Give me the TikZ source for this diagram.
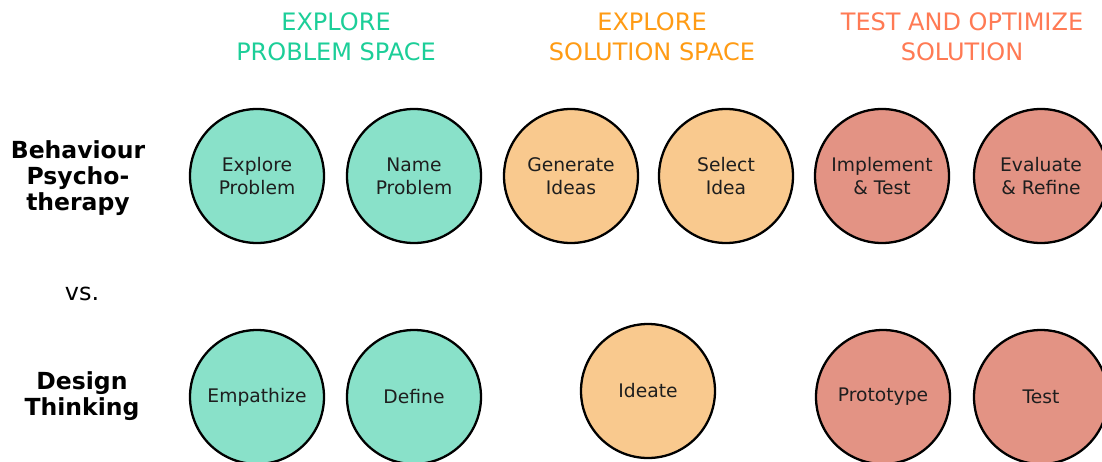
\documentclass[tikz,border=0pt]{standalone}
\usepackage{fontspec}
\setmainfont{DejaVu Sans}
\definecolor{hgreen}{RGB}{28,206,152}
\definecolor{horange}{RGB}{255,155,20}
\definecolor{hcoral}{RGB}{255,122,84}
\definecolor{fgreen}{RGB}{137,225,201}
\definecolor{forange}{RGB}{249,201,142}
\definecolor{fcoral}{RGB}{227,147,132}
\definecolor{ctext}{RGB}{30,30,30}
\tikzset{
  phase/.style={circle, draw=black, line width=2.3pt, minimum size=134pt, inner sep=0pt,
    align=center, text=ctext, font=\fontsize{18.7}{23}\selectfont},
  pg/.style={phase, fill=fgreen},
  po/.style={phase, fill=forange},
  pc/.style={phase, fill=fcoral},
  header/.style={align=center, font=\fontsize{24}{30}\selectfont, inner sep=0pt},
  rowlabel/.style={align=center, font=\bfseries\fontsize{23.5}{26}\selectfont, inner sep=0pt},
}
\begin{document}
\begin{tikzpicture}[x=1pt,y=-1pt]
\useasboundingbox (0,0) rectangle (1102,461);
% headers
\node[header, text=hgreen] (h1) at (336,37) {EXPLORE\\PROBLEM SPACE};
\node[header, text=horange] (h2) at (652,37) {EXPLORE\\SOLUTION SPACE};
\node[header, text=hcoral] (h3) at (962,37) {TEST AND OPTIMIZE\\SOLUTION};
% row labels
\node[rowlabel] (l1) at (78,178) {Behaviour\\Psycho-\\therapy};
\node[rowlabel, font=\fontsize{24}{26}\selectfont] (vs) at (82,294) {vs.};
\node[rowlabel] (l2) at (82,396) {Design\\Thinking};
% top row
\node[pg] (a1) at (257,176) {Explore\\Problem};
\node[pg] (a2) at (414,176) {Name\\Problem};
\node[po] (a3) at (571,176) {Generate\\Ideas};
\node[po] (a4) at (726,176) {Select\\Idea};
\node[pc] (a5) at (882,176) {Implement\\\&\ Test};
\node[pc] (a6) at (1041,176) {Evaluate\\\&\ Refine};
% bottom row
\node[pg] (b1) at (257,397) {Empathize};
\node[pg] (b2) at (414,397) {Define};
\node[po] (b3) at (648,391) {Ideate};
\node[pc] (b4) at (883,397) {Prototype};
\node[pc] (b5) at (1041,397) {Test};
\end{tikzpicture}
\end{document}
